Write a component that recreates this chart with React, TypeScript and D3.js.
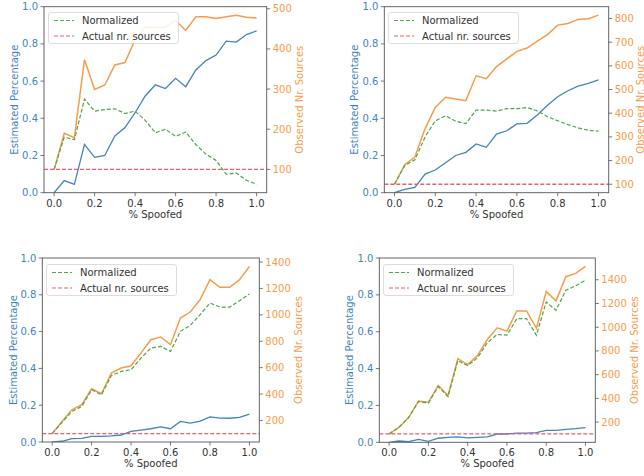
import React from 'react';
import * as d3 from 'd3';

// % spoofed (x)
const spoofed = [0, 0.05, 0.1, 0.15, 0.2, 0.25, 0.3, 0.35, 0.4, 0.45, 0.5, 0.55, 0.6, 0.65, 0.7, 0.75, 0.8, 0.85, 0.9, 0.95, 1.0];

// panel 1
const est1 = [0, 0.065, 0.045, 0.26, 0.19, 0.2, 0.305, 0.35, 0.43, 0.52, 0.58, 0.56, 0.615, 0.57, 0.66, 0.71, 0.74, 0.815, 0.81, 0.85, 0.87];
const obs1 = [100, 190, 179, 373, 299, 310, 360, 366, 423, 454, 454, 454, 471, 446, 480, 480, 476, 480, 484, 479, 477];
const norm1 = [100, 180, 174, 275, 245, 249, 251, 239, 245, 222, 191, 200, 182, 193, 162, 138, 122, 88, 91, 73, 63];

// panel 2
const est2 = [0, 0.018, 0.029, 0.1, 0.122, 0.161, 0.2, 0.217, 0.262, 0.244, 0.315, 0.333, 0.37, 0.373, 0.418, 0.47, 0.516, 0.548, 0.573, 0.588, 0.606];
const obs2 = [100, 182, 215, 335, 424, 467, 460, 453, 558, 546, 597, 629, 661, 675, 704, 732, 772, 779, 796, 799, 814];
const norm2 = [100, 179, 203, 300, 368, 389, 366, 356, 413, 413, 409, 419, 419, 424, 410, 385, 368, 352, 338, 328, 324];

// panel 3
const est3 = [0, 0.004, 0.018, 0.02, 0.031, 0.031, 0.033, 0.038, 0.058, 0.065, 0.072, 0.082, 0.072, 0.112, 0.103, 0.114, 0.136, 0.13, 0.129, 0.134, 0.152];
const obs3 = [100, 192, 281, 319, 440, 402, 559, 597, 614, 710, 811, 832, 774, 976, 1021, 1115, 1266, 1208, 1208, 1266, 1367];
const norm3 = [100, 185, 268, 306, 432, 395, 541, 571, 584, 672, 748, 761, 723, 875, 920, 1001, 1089, 1059, 1059, 1107, 1158];

// panel 4
const est4 = [0, 0.007, 0.004, 0.016, 0.005, 0.022, 0.027, 0.029, 0.024, 0.027, 0.029, 0.045, 0.045, 0.05, 0.05, 0.052, 0.065, 0.065, 0.07, 0.074, 0.08];
const obs4 = [100, 155, 240, 378, 367, 509, 424, 735, 684, 760, 896, 995, 967, 1137, 1137, 990, 1301, 1222, 1426, 1454, 1513];
const norm4 = [100, 155, 240, 373, 361, 500, 415, 718, 676, 741, 868, 939, 933, 1072, 1072, 933, 1213, 1143, 1312, 1349, 1397];

const actualSources = 100;

const xTicks = [0, 0.2, 0.4, 0.6, 0.8, 1.0];
const leftTicks = [0, 0.2, 0.4, 0.6, 0.8, 1.0];
const rightTicks1 = [100, 200, 300, 400, 500];
const rightTicks2 = [100, 200, 300, 400, 500, 600, 700, 800];
const rightTicks3 = [200, 400, 600, 800, 1000, 1200, 1400];
const rightTicks4 = [200, 400, 600, 800, 1000, 1200, 1400];

const BLUE = '#3f84bf';
const ORANGE = '#fb9a48';
const GREEN = '#4aa84a';
const RED = '#e4626a';
const FONT = 'DejaVu Sans, sans-serif';

type Panel = {
  box: [number, number, number, number]; // left, right, top, bottom
  est: number[]; obs: number[]; norm: number[]; rTicks: number[];
  ylx: number; yrx: number;
};

const panels: Panel[] = [
  { box: [44, 266.7, 6.7, 192.7], est: est1, obs: obs1, norm: norm1, rTicks: rightTicks1, ylx: 14, yrx: 299 },
  { box: [384.3, 608.7, 6.7, 192.7], est: est2, obs: obs2, norm: norm2, rTicks: rightTicks2, ylx: 354, yrx: 640 },
  { box: [42.3, 259.3, 258, 442], est: est3, obs: obs3, norm: norm3, rTicks: rightTicks3, ylx: 13, yrx: 298 },
  { box: [379.3, 595.3, 258, 442.3], est: est4, obs: obs4, norm: norm4, rTicks: rightTicks4, ylx: 349.5, yrx: 634 },
];

const Chart = ({ p, idx }: { p: Panel; idx: number }) => {
  const [l, r, t, b] = p.box;
  const x = d3.scaleLinear().domain([-0.05, 1.05]).range([l, r]);
  const yL = d3.scaleLinear().domain([0, 1]).range([b, t]);
  const all = [...p.obs, ...p.norm, actualSources];
  const lo = d3.min(all)!, hi = d3.max(all)!;
  const pad = (hi - lo) * 0.05;
  const yR = d3.scaleLinear().domain([lo - pad, hi + pad]).range([b, t]);

  const lineL = d3.line<number>().x((_, i) => x(spoofed[i])).y(d => yL(d));
  const lineR = d3.line<number>().x((_, i) => x(spoofed[i])).y(d => yR(d));
  const clip = `clip${idx}`;
  const lgX = Math.round(l + 4), lgY = Math.round(t + 5.5);

  return (
    <g fontFamily={FONT} fontSize={10}>
      <defs>
        <clipPath id={clip}><rect x={l} y={t} width={r - l} height={b - t} /></clipPath>
      </defs>
      <g clipPath={`url(#${clip})`}>
        <path d={lineL(p.est)!} fill="none" stroke={BLUE} strokeWidth={1.3} />
        <path d={lineR(p.obs)!} fill="none" stroke={ORANGE} strokeWidth={1.5} />
        <path d={lineR(p.norm)!} fill="none" stroke={GREEN} strokeWidth={1.2} strokeDasharray="4,2" />
        <line x1={l} x2={r} y1={yR(actualSources)} y2={yR(actualSources)} stroke={RED} strokeWidth={1.3} strokeDasharray="4,2" />
      </g>
      <rect x={l} y={t} width={r - l} height={b - t} fill="none" stroke="#555" strokeWidth={0.9} />
      {xTicks.map(v => (
        <g key={'x' + v}>
          <line x1={x(v)} x2={x(v)} y1={b} y2={b + 3.5} stroke="#555" strokeWidth={0.8} />
          <text x={x(v)} y={b + 14} textAnchor="middle" fill="#333">{v.toFixed(1)}</text>
        </g>
      ))}
      {leftTicks.map(v => (
        <g key={'l' + v}>
          <line x1={l - 3.5} x2={l} y1={yL(v)} y2={yL(v)} stroke="#555" strokeWidth={0.8} />
          <text x={l - 6} y={yL(v) + 3.5} textAnchor="end" fill={BLUE}>{v.toFixed(1)}</text>
        </g>
      ))}
      {p.rTicks.map(v => (
        <g key={'r' + v}>
          <line x1={r} x2={r + 3.5} y1={yR(v)} y2={yR(v)} stroke="#555" strokeWidth={0.8} />
          <text x={r + 6} y={yR(v) + 3.5} textAnchor="start" fill={ORANGE}>{v}</text>
        </g>
      ))}
      <text x={(l + r) / 2} y={b + 25} textAnchor="middle" fill="#333">% Spoofed</text>
      <text transform={`translate(${p.ylx},${(t + b) / 2}) rotate(-90)`} textAnchor="middle" dy="0.35em" fill={BLUE}>Estimated Percentage</text>
      <text transform={`translate(${p.yrx},${(t + b) / 2}) rotate(-90)`} textAnchor="middle" dy="0.35em" fill={ORANGE}>Observed Nr. Sources</text>
      <g transform={`translate(${lgX},${lgY})`}>
        <rect x={0.5} y={0.5} width={130} height={31} rx={2.5} fill="white" fillOpacity={0.85} stroke="#d4d4d4" strokeWidth={0.8} />
        <line x1={6} x2={26} y1={8.5} y2={8.5} stroke={GREEN} strokeWidth={1.2} strokeDasharray="4,2" />
        <text x={34} y={12} fill="#333">Normalized</text>
        <line x1={6} x2={26} y1={24} y2={24} stroke={RED} strokeWidth={1.2} strokeDasharray="4,2" />
        <text x={34} y={27.5} fill="#333">Actual nr. sources</text>
      </g>
    </g>
  );
};

export default function App() {
  return (
    <svg width={644} height={476} style={{ position: 'absolute', left: 0, top: 0, background: 'white' }}>
      {panels.map((p, i) => <Chart key={i} p={p} idx={i} />)}
    </svg>
  );
}
